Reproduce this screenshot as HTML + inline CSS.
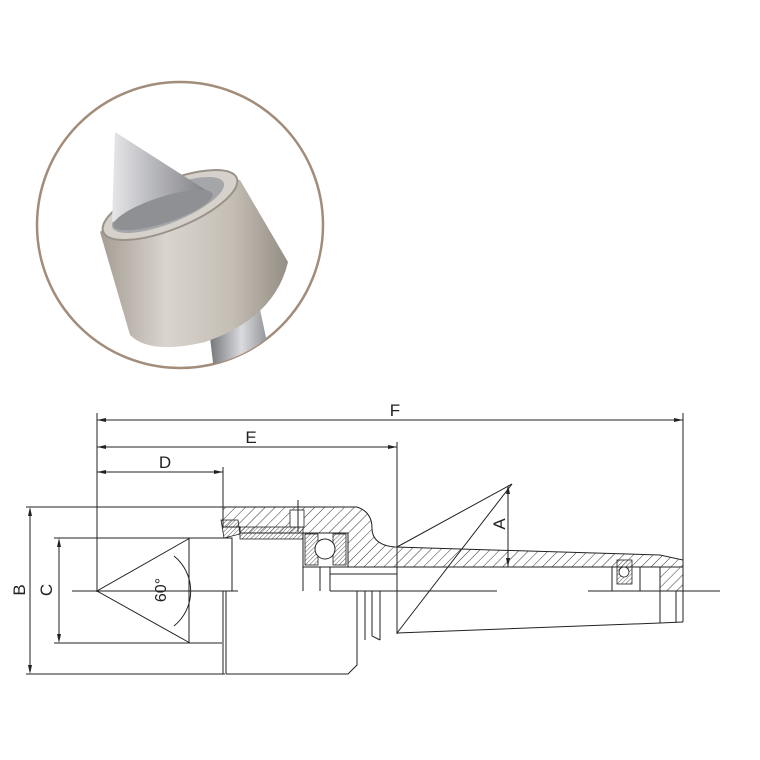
<!DOCTYPE html>
<html><head><style>html,body{margin:0;padding:0;background:#fff}svg{display:block}</style></head>
<body>
<svg width="760" height="760" viewBox="0 0 760 760" xmlns="http://www.w3.org/2000/svg">
<defs>
<pattern id="h" width="7" height="7" patternUnits="userSpaceOnUse" patternTransform="rotate(45)"><line x1="0" y1="0" x2="0" y2="7" stroke="#333" stroke-width="1"/></pattern>
<pattern id="h2" width="3" height="3" patternUnits="userSpaceOnUse" patternTransform="rotate(45)"><line x1="0" y1="0" x2="0" y2="3" stroke="#333" stroke-width="0.8"/></pattern>
<linearGradient id="body" x1="0" y1="0" x2="1" y2="0"><stop offset="0" stop-color="#a59d94"/><stop offset="0.35" stop-color="#d9d4cd"/><stop offset="0.7" stop-color="#c4beb5"/><stop offset="1" stop-color="#958e85"/></linearGradient>
<linearGradient id="cone" x1="0" y1="0" x2="1" y2="0"><stop offset="0" stop-color="#e6e6e8"/><stop offset="0.4" stop-color="#b8b9bd"/><stop offset="1" stop-color="#7c7d82"/></linearGradient>
<linearGradient id="shaft" x1="0" y1="0" x2="1" y2="0"><stop offset="0" stop-color="#6f7176"/><stop offset="0.5" stop-color="#dadbde"/><stop offset="1" stop-color="#7d7f84"/></linearGradient>
<clipPath id="cc"><circle cx="180" cy="225" r="143"/></clipPath>
</defs>
<!-- photo -->
<circle cx="180" cy="225" r="143" fill="#fff" stroke="#a28c7a" stroke-width="2.5"/>
<g clip-path="url(#cc)">
 <polygon points="208,320 258,300 275,380 215,380" fill="url(#shaft)"/>
 <path d="M100,232 Q160,178 240,180 L288,262 Q275,318 205,342 Q150,355 130,335 Z" fill="url(#body)"/>
 <ellipse cx="170" cy="205" rx="72" ry="24" transform="rotate(-22 170 205)" fill="#d6d1ca" stroke="#9a938a" stroke-width="2"/>
 <ellipse cx="168" cy="205" rx="60" ry="18" transform="rotate(-22 168 205)" fill="#a5a6aa"/>
 <polygon points="115,132 112,222 212,194" fill="url(#cone)"/>
 <ellipse cx="163" cy="210" rx="52" ry="13" transform="rotate(-18 163 210)" fill="#8f9094"/>
</g>
<g fill="none" stroke="#222" stroke-width="1">
 <line x1="97" y1="413" x2="97" y2="592"/>
 <line x1="97" y1="420" x2="683" y2="420"/>
 <line x1="683" y1="413" x2="683" y2="622"/>
 <line x1="97" y1="447" x2="397" y2="447"/>
 <line x1="397" y1="442" x2="397" y2="634"/>
 <line x1="97" y1="472" x2="223" y2="472"/>
 <line x1="223" y1="467" x2="223" y2="510"/>
 <line x1="26" y1="507" x2="225" y2="507"/>
 <line x1="26" y1="674" x2="225" y2="674"/>
 <line x1="30" y1="509" x2="30" y2="672"/>
 <line x1="54" y1="538" x2="190" y2="538"/>
 <line x1="54" y1="643" x2="190" y2="643"/>
 <line x1="59" y1="540" x2="59" y2="641"/>
 <line x1="72" y1="591" x2="238" y2="591"/>
 <line x1="330" y1="591" x2="497" y2="591"/>
 <line x1="588" y1="591" x2="720" y2="591"/>
 <polyline points="190,538 97,591 190,643"/>
 <line x1="189" y1="538" x2="189" y2="643"/>
 <polyline points="189,538 232,538 232,591"/>
 <line x1="189" y1="643" x2="222" y2="643"/>
 <path d="M174,556 A45,45 0 0 1 174,626"/>
 <line x1="223" y1="591" x2="223" y2="674"/>
 <line x1="226" y1="591" x2="226" y2="674"/>
 <polyline points="226,674 348,674 357,665 357,591"/>
 <polyline points="357,591 372,591 372,636 380,640"/>
 <line x1="365" y1="591" x2="365" y2="640"/>
 <line x1="380" y1="591" x2="380" y2="640"/>
 <line x1="232" y1="545" x2="232" y2="591"/>
 <line x1="303" y1="545" x2="303" y2="591"/>
 <line x1="320" y1="565" x2="320" y2="591"/>
 <line x1="330" y1="565" x2="330" y2="591"/>
 <line x1="347" y1="567" x2="683" y2="567"/>
 <line x1="330" y1="574" x2="397" y2="574"/>
 <polyline points="397,633 660,623 683,622"/>
 <line x1="660" y1="567" x2="660" y2="623"/>
 <line x1="676" y1="591" x2="676" y2="622"/>
 <line x1="612" y1="567" x2="612" y2="591"/>
 <line x1="640" y1="567" x2="640" y2="591"/>
 <line x1="397" y1="633" x2="512" y2="484"/>
 <line x1="397" y1="547" x2="512" y2="484"/>
 <line x1="508" y1="488" x2="508" y2="567"/>
</g>
<path d="M223,507 L357,507 Q372,512 372,528 Q372,545 395,547 L660,555 L683,560 L683,591 L660,591 L660,567 L347,567 L347,533 L240,533 L240,527 L223,527 Z" fill="url(#h)" stroke="#222" stroke-width="1"/>
<rect x="303" y="533" width="45" height="34" fill="#fff" stroke="#222"/>
<rect x="305" y="534" width="13" height="31" fill="url(#h2)" stroke="#222" stroke-width="0.8"/>
<rect x="333" y="534" width="13" height="31" fill="url(#h2)" stroke="#222" stroke-width="0.8"/>
<circle cx="325" cy="549" r="10" fill="#fff" stroke="#222"/>
<rect x="240" y="527" width="63" height="12" fill="url(#h2)" stroke="#222" stroke-width="0.8"/>
<rect x="290" y="510" width="14" height="17" fill="#fff" stroke="#222" stroke-width="0.8"/>
<line x1="298" y1="500" x2="298" y2="532" stroke="#222"/>
<polygon points="221,520 238,520 240,534 224,538" fill="url(#h2)" stroke="#222" stroke-width="0.8"/>
<rect x="617" y="560" width="15" height="24" fill="url(#h2)" stroke="#222" stroke-width="0.8"/>
<circle cx="624" cy="572" r="5" fill="#fff" stroke="#222" stroke-width="0.8"/>
<g fill="#222">
 <polygon points="97,420 106,418 106,422"/><polygon points="683,420 674,418 674,422"/>
 <polygon points="97,447 106,445 106,449"/><polygon points="397,447 388,445 388,449"/>
 <polygon points="97,472 106,470 106,474"/><polygon points="223,472 214,470 214,474"/>
 <polygon points="30,507 28,516 32,516"/><polygon points="30,674 28,665 32,665"/>
 <polygon points="59,538 57,547 61,547"/><polygon points="59,643 57,634 61,634"/>
 <polygon points="508,485 506,494 510,494"/><polygon points="508,567 506,558 510,558"/>
</g>
<g font-family="Liberation Sans, sans-serif" font-size="17" fill="#222" text-anchor="middle">
 <text x="395" y="416">F</text>
 <text x="251" y="443">E</text>
 <text x="165" y="468">D</text>
 <text transform="translate(25,590) rotate(-90)">B</text>
 <text transform="translate(52,590) rotate(-90)">C</text>
 <text transform="translate(505,524) rotate(-90)">A</text>
 <text transform="translate(166,590) rotate(-90)" font-size="16">60°</text>
</g>
</svg>
</body></html>
